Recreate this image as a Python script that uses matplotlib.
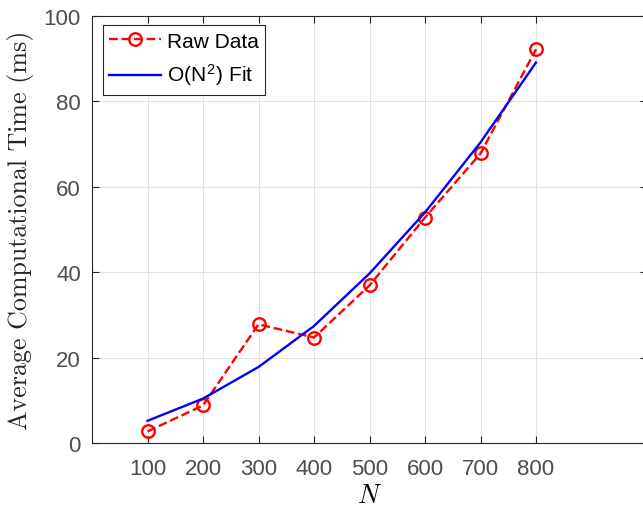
import matplotlib.pyplot as plt

plt.rcParams["font.family"] = ["Liberation Sans", "DejaVu Sans"]
plt.rcParams["mathtext.fontset"] = "custom"
plt.rcParams["mathtext.rm"] = "Liberation Sans"
plt.rcParams["mathtext.it"] = "cmmi10"

# values
n_values = [100, 200, 300, 400, 500, 600, 700, 800]
raw_time = [2.7, 8.8, 27.8, 24.7, 36.9, 52.8, 67.8, 92.2]
fit_time = [5.2, 10.4, 17.8, 27.4, 39.7, 54.0, 70.4, 89.1]
y_ticks = [0, 20, 40, 60, 80, 100]

fig = plt.figure(figsize=(6.43, 5.10), dpi=100)
ax = fig.add_axes([92 / 643, 1 - 444 / 510, 555 / 643, 427 / 510])

ax.plot(n_values, raw_time, "--o", color="red", linewidth=1.7, markersize=9,
        markerfacecolor="none", markeredgewidth=1.7, label="Raw Data", zorder=3)
ax.plot(n_values, fit_time, "-", color="blue", linewidth=1.7,
        label=r"O(N$^2$) Fit", zorder=3)

ax.set_xlim(0, 1000)
ax.set_ylim(0, 100)
ax.set_xticks(n_values)
ax.set_yticks(y_ticks)
ax.grid(True, color="#e3e3e3", linewidth=0.8, zorder=0)
ax.set_axisbelow(True)
ax.tick_params(direction="in", top=True, right=True, length=5, width=0.8,
               labelsize=16, labelcolor="#4d4d4d", color="#262626")
ax.tick_params(axis="x", pad=11)
ax.tick_params(axis="y", pad=8)
for spine in ax.spines.values():
    spine.set_color("#262626")
    spine.set_linewidth(0.8)

ax.set_xlabel(r"$N$", fontsize=19, labelpad=3)
ax.set_ylabel("Average Computational Time (ms)", fontfamily="cmr10",
              fontsize=18.7, labelpad=7, color="#262626")

leg = ax.legend(loc="upper left", bbox_to_anchor=(0.02, 0.978), fontsize=15,
                frameon=True, fancybox=False, edgecolor="#262626", framealpha=1,
                handlelength=2.5, borderpad=0.3, labelspacing=0.55, handletextpad=0.25,
                borderaxespad=0)
leg.get_frame().set_linewidth(0.8)

fig.savefig("out.png", dpi=100)
